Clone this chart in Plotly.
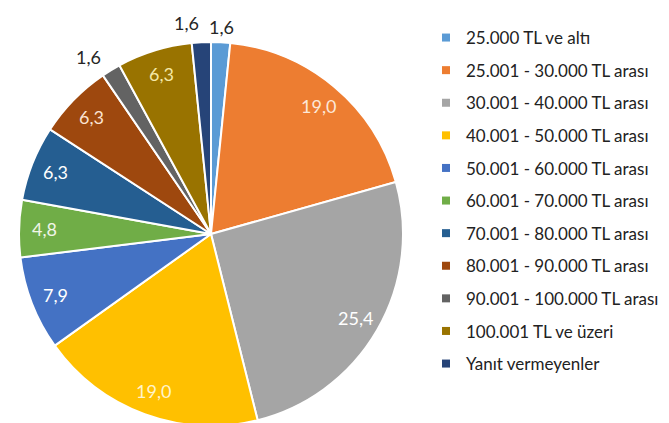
import math
import plotly.graph_objects as go

labels = [
    "25.000 TL ve altı",
    "25.001 - 30.000 TL arası",
    "30.001 - 40.000 TL arası",
    "40.001 - 50.000 TL arası",
    "50.001 - 60.000 TL arası",
    "60.001 - 70.000 TL arası",
    "70.001 - 80.000 TL arası",
    "80.001 - 90.000 TL arası",
    "90.001 - 100.000 TL arası",
    "100.001 TL ve üzeri",
    "Yanıt vermeyenler",
]
values = [1.6, 19.0, 25.4, 19.0, 7.9, 4.8, 6.3, 6.3, 1.6, 6.3, 1.6]
colors = ["#5B9BD5", "#ED7D31", "#A5A5A5", "#FFC000", "#4472C4", "#70AD47",
          "#255E91", "#9E480E", "#636363", "#997300", "#264478"]
text_colors = ["#262626", "#FCE8D8", "#FFFFFF", "#FFF4CC", "#FFFFFF", "#F0F5E8",
               "#FFFFFF", "#FBE3D2", "#262626", "#F4E8A8", "#262626"]
outside = [True, False, False, False, False, False, False, False, True, False, True]

W, H = 669, 423
cx, cy, r = 203, 226, 192
xr = [-1.05, 1.2]
yr = [-1.0, 1.15]
dom_x = [(cx + xr[0] * r) / W, (cx + xr[1] * r) / W]
dom_y = [max(0, (H - cy + yr[0] * r) / H), min(1, (H - cy + yr[1] * r) / H)]
pie_dom_x = [(cx - r) / W, (cx + r) / W]
pie_dom_y = [(H - cy - r) / H, (H - cy + r) / H]
# keep data scale square: recompute y range from the clipped domain
yr = [(dom_y[0] * H - (H - cy)) / r, (dom_y[1] * H - (H - cy)) / r]

fig = go.Figure()
fig.add_trace(go.Pie(
    labels=labels, values=values, sort=False, direction="clockwise", rotation=0,
    marker=dict(colors=colors, line=dict(color="white", width=2)),
    textinfo="none", showlegend=False, hoverinfo="label+value",
    domain=dict(x=pie_dom_x, y=pie_dom_y),
))
for i, (lab, col) in enumerate(zip(labels, colors)):
    fig.add_trace(go.Scatter(
        x=[None], y=[None], mode="markers", name=lab, legendgroup=str(i),
        marker=dict(symbol="square", size=8, color=col), showlegend=True,
        hoverinfo="skip",
    ))

total = sum(values)
annotations = []
cum = 0.0
for v, tc, out in zip(values, text_colors, outside):
    mid = (cum + v / 2) / total * 2 * math.pi
    cum += v
    f = 1.08 if out else 0.87
    sx, sy = math.sin(mid), math.cos(mid)
    # nudge the top-left outside label up slightly to avoid crowding its neighbour
    nudge = 4 if (out and sx < 0 and sy > 0.99) else 0
    annotations.append(dict(
        x=f * sx, y=f * sy, xref="x", yref="y", showarrow=False,
        text=f"{v:.1f}".replace(".", ","),
        xanchor=("center" if sx > 0 else "right") if out else "center",
        yanchor="middle", yshift=nudge,
        font=dict(family="Lato", size=18, color=tc),
    ))

fig.update_layout(
    width=W, height=H, separators=",.",
    margin=dict(l=0, r=0, t=0, b=0),
    paper_bgcolor="white", plot_bgcolor="rgba(0,0,0,0)",
    xaxis=dict(visible=False, domain=dom_x, range=xr, fixedrange=True),
    yaxis=dict(visible=False, domain=dom_y, range=yr, fixedrange=True),
    font=dict(family="Lato", size=17, color="#222222"),
    annotations=annotations,
    legend=dict(x=418 / W, y=1 - 12 / H, xanchor="left", yanchor="top",
                tracegroupgap=7.5, itemwidth=30,
                font=dict(family="Lato", size=17, color="#222222"),
                bgcolor="rgba(0,0,0,0)"),
)
fig.write_html("out.html")
